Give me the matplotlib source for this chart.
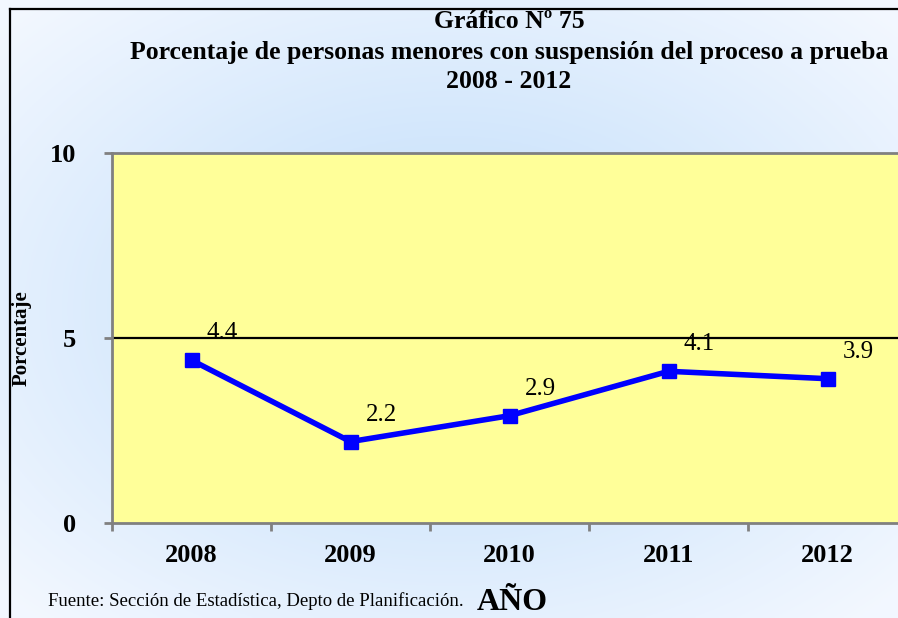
import numpy as np
import matplotlib.pyplot as plt
from matplotlib.lines import Line2D

years = ['2008', '2009', '2010', '2011', '2012']
porcentaje = [4.4, 2.2, 2.9, 4.1, 3.9]
labels = ['4.4', '2.2', '2.9', '4.1', '3.9']

plt.rcParams['font.family'] = ['Liberation Serif', 'DejaVu Serif']

fig = plt.figure(figsize=(8.98, 6.18), dpi=100)

# light blue gradient background
bg = fig.add_axes([0, 0, 1, 1], zorder=-5)
yy, xx = np.mgrid[-1:1:300j, -1:1:400j]
r = np.clip(np.sqrt(xx**2 + yy**2) / 1.35, 0, 1)
c0 = np.array([0.74, 0.86, 0.98])
c1 = np.array([0.95, 0.97, 1.0])
img = c0[None, None, :] * (1 - r[..., None]) + c1[None, None, :] * r[..., None]
bg.imshow(img, extent=[0, 1, 0, 1], aspect='auto')
bg.set_xlim(0, 1)
bg.set_ylim(0, 1)
bg.axis('off')

# frame lines (left and top)
fig.add_artist(Line2D([10/898, 10/898], [0, 1 - 9/618], color='black', lw=1.6))
fig.add_artist(Line2D([10/898, 1], [1 - 9/618, 1 - 9/618], color='black', lw=1.6))

ax = fig.add_axes([112/898, 95/618, 795/898, 370/618])
ax.set_facecolor('#FFFF99')
x = np.arange(len(years))
ax.plot(x, porcentaje, color='#0000FF', lw=4, marker='s', markersize=9.5, zorder=3)
ax.axhline(5, color='black', lw=1.6, zorder=2)

for xi, yi, lab in zip(x, porcentaje, labels):
    ax.annotate(lab, (xi, yi), xytext=(22, 19.5), textcoords='offset points',
                ha='center', va='center', fontsize=18)

ax.set_xlim(-0.5, 4.5)
ax.set_ylim(0, 10)
ax.set_yticks([0, 5, 10])
ax.set_yticklabels(['0', '5', '10'], fontsize=19, fontweight='bold')
ax.set_xticks(np.arange(-0.5, 5, 1))
ax.set_xticklabels([])
ax.set_xticks(x, minor=True)
ax.set_xticklabels(years, minor=True, fontsize=19, fontweight='bold')
ax.tick_params(axis='x', which='minor', length=0, pad=15)
ax.tick_params(axis='x', which='major', length=6, width=2, color='#808080')
ax.tick_params(axis='y', length=6, width=2, color='#808080', pad=20)

for s in ['left', 'bottom', 'top']:
    ax.spines[s].set_color('#808080')
    ax.spines[s].set_linewidth(2)
ax.spines['right'].set_visible(False)

fig.text(22/898, 1 - 338/618, 'Porcentaje', rotation=90, ha='center', va='center',
         fontsize=15, fontweight='bold')

fig.text(509/898, 1 - 21/618, 'Gráfico Nº 75', ha='center', va='center',
         fontsize=18.5, fontweight='bold')
fig.text(509/898, 1 - 52/618, 'Porcentaje de personas menores con suspensión del proceso a prueba',
         ha='center', va='center', fontsize=18.5, fontweight='bold')
fig.text(509/898, 1 - 82/618, '2008 - 2012', ha='center', va='center',
         fontsize=18.5, fontweight='bold')

fig.text(48/898, 1 - 601/618, 'Fuente: Sección de Estadística, Depto de Planificación.',
         ha='left', va='center', fontsize=13.5)
fig.text(477/898, 1 - 603/618, 'AÑO', ha='left', va='center',
         fontsize=23, fontweight='bold')

fig.savefig('out.png', dpi=100)
